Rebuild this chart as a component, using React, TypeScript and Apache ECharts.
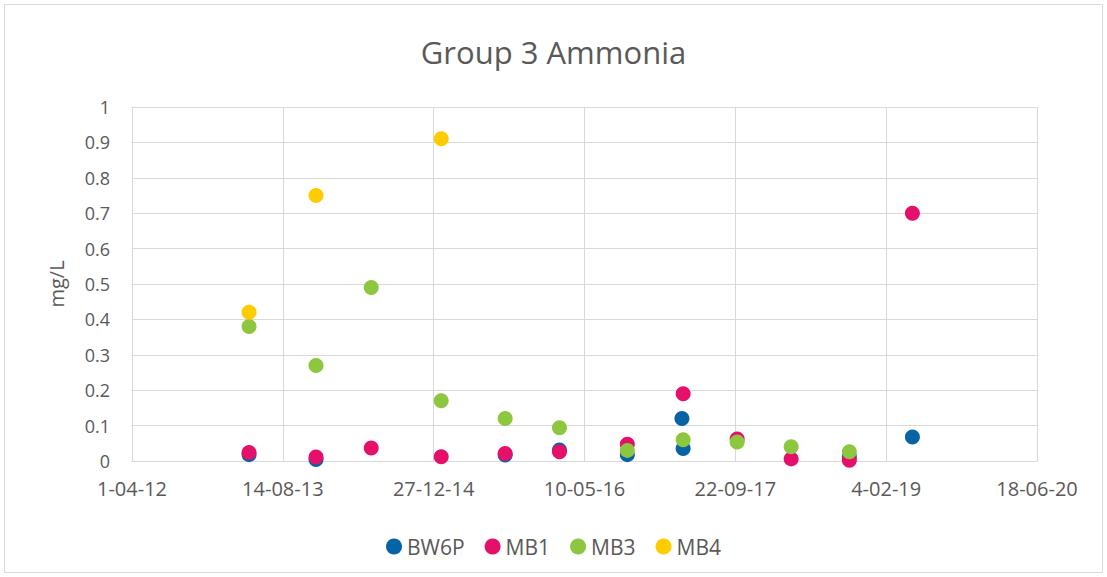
import React, { useEffect, useRef } from "react";
import * as echarts from "echarts";

const seriesNames = ["BW6P", "MB1", "MB3", "MB4"];
const seriesColors = ["#0563A6", "#E5106A", "#8DC63F", "#FFCC00"];

const bw6pDates = ["2013-04-24", "2013-12-02", "2015-08-21", "2016-02-17", "2016-09-29", "2017-03-29", "2017-04-02", "2018-10-05", "2019-05-02"];
const bw6pValues = [0.018, 0.004, 0.017, 0.031, 0.018, 0.12, 0.035, 0.012, 0.068];

const mb1Dates = ["2013-04-24", "2013-12-02", "2014-06-03", "2015-01-21", "2015-08-21", "2016-02-17", "2016-09-29", "2017-04-02", "2017-09-28", "2018-03-26", "2018-10-05", "2019-05-02"];
const mb1Values = [0.024, 0.011, 0.037, 0.012, 0.021, 0.026, 0.047, 0.19, 0.062, 0.006, 0.002, 0.7];

const mb3Dates = ["2013-04-24", "2013-12-02", "2014-06-03", "2015-01-21", "2015-08-21", "2016-02-17", "2016-09-29", "2017-04-02", "2017-09-28", "2018-03-26", "2018-10-05"];
const mb3Values = [0.38, 0.27, 0.49, 0.17, 0.12, 0.094, 0.03, 0.06, 0.054, 0.04, 0.026];

const mb4Dates = ["2013-04-24", "2013-12-02", "2015-01-21"];
const mb4Values = [0.42, 0.75, 0.91];

const xMin = 41000;
const xMax = 44000;
const xInterval = 500;

const toSerial = (s: string) => {
  const [y, m, d] = s.split("-").map(Number);
  return Math.round((Date.UTC(y, m - 1, d) - Date.UTC(1899, 11, 30)) / 86400000);
};
const fromSerial = (v: number) => {
  const dt = new Date(Date.UTC(1899, 11, 30) + v * 86400000);
  const d = dt.getUTCDate();
  const m = String(dt.getUTCMonth() + 1).padStart(2, "0");
  const y = String(dt.getUTCFullYear() % 100).padStart(2, "0");
  return `${d}-${m}-${y}`;
};

const allDates = [bw6pDates, mb1Dates, mb3Dates, mb4Dates];
const allValues = [bw6pValues, mb1Values, mb3Values, mb4Values];

const FONT = "'Open Sans', 'Noto Sans', sans-serif";

export default function App() {
  const ref = useRef<HTMLDivElement>(null);
  useEffect(() => {
    if (!ref.current) return;
    const chart = echarts.init(ref.current, undefined, { renderer: "svg" });
    chart.setOption({
      animation: false,
      backgroundColor: "#ffffff",
      title: {
        text: "Group 3 Ammonia",
        left: "center",
        top: 31,
        textStyle: { fontFamily: FONT, fontSize: 31, fontWeight: "normal", color: "#595959" },
      },
      graphic: [
        {
          type: "rect",
          shape: { x: 4.5, y: 4.5, width: 1098, height: 568 },
          style: { fill: "none", stroke: "#d9d9d9", lineWidth: 1 },
          silent: true,
        },
      ],
      legend: {
        top: 531,
        left: "center",
        itemWidth: 16,
        itemHeight: 16,
        itemGap: 20,
        icon: "circle",
        textStyle: { fontFamily: FONT, fontSize: 21, color: "#595959" },
        data: seriesNames,
      },
      grid: { left: 132, right: 70, top: 107, bottom: 116, containLabel: false },
      xAxis: {
        type: "value",
        min: xMin,
        max: xMax,
        interval: xInterval,
        axisLine: { show: true, lineStyle: { color: "#d9d9d9" } },
        axisTick: { show: false },
        splitLine: { show: true, lineStyle: { color: "#d9d9d9", width: 1 } },
        axisLabel: {
          formatter: (v: number) => fromSerial(v),
          fontFamily: FONT,
          fontSize: 20,
          color: "#595959",
          margin: 17,
          showMaxLabel: true,
          showMinLabel: true,
        },
      },
      yAxis: {
        type: "value",
        min: 0,
        max: 1,
        interval: 0.1,
        name: "mg/L",
        nameLocation: "middle",
        nameGap: 66,
        nameRotate: 90,
        nameTextStyle: { fontFamily: FONT, fontSize: 20, color: "#595959" },
        axisLine: { show: true, lineStyle: { color: "#d9d9d9" } },
        axisTick: { show: false },
        splitLine: { show: true, lineStyle: { color: "#d9d9d9", width: 1 } },
        axisLabel: {
          fontFamily: FONT,
          fontSize: 18,
          color: "#595959",
          margin: 22,
          formatter: (v: number) => String(Math.round(v * 10) / 10),
        },
      },
      series: seriesNames.map((name, i) => ({
        name,
        type: "scatter",
        symbol: "circle",
        symbolSize: 15,
        itemStyle: { color: seriesColors[i], opacity: 1 },
        data: allDates[i].map((d, j) => [toSerial(d), allValues[i][j]]),
      })),
    });
    return () => chart.dispose();
  }, []);
  return (
    <div
      ref={ref}
      style={{ position: "absolute", left: 0, top: 0, width: 1107, height: 577 }}
    />
  );
}
